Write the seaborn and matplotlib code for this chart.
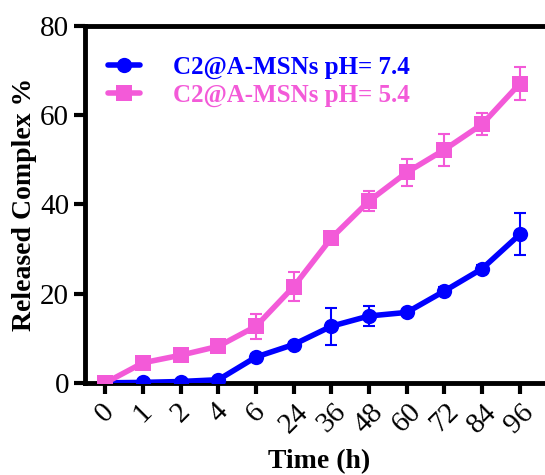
import matplotlib
matplotlib.use("Agg")
import matplotlib.pyplot as plt
import seaborn as sns
import numpy as np
import pandas as pd
from matplotlib.lines import Line2D

# data
time_labels = ["0", "1", "2", "4", "6", "24", "36", "48", "60", "72", "84", "96"]
ph74_mean = [0.0, 0.1, 0.3, 0.7, 5.8, 8.6, 12.7, 15.0, 15.8, 20.6, 25.6, 33.3]
ph74_err = [0.0, 0.0, 0.0, 0.0, 0.6, 0.6, 4.1, 2.3, 0.6, 0.8, 0.8, 4.7]
ph54_mean = [0.0, 4.5, 6.2, 8.2, 12.7, 21.6, 32.5, 40.8, 47.2, 52.3, 58.0, 67.1]
ph54_err = [0.0, 0.5, 0.5, 0.5, 2.8, 3.2, 0.8, 2.2, 3.1, 3.6, 2.5, 3.7]

label_74 = "C2@A-MSNs pH= 7.4"
label_54 = "C2@A-MSNs pH= 5.4"
blue = "#0000ff"
pink = "#f35ad8"

sns.set_theme(style="ticks", rc={"axes.edgecolor": "black", "xtick.color": "black",
                                 "ytick.color": "black", "text.color": "black",
                                 "axes.labelcolor": "black"})
plt.rcParams['font.family'] = ['Liberation Serif', 'DejaVu Serif']
plt.rcParams['axes.linewidth'] = 3.5

pos = np.arange(len(time_labels))
df = pd.DataFrame({
    "pos": np.concatenate([pos, pos]),
    "val": ph54_mean + ph74_mean,
    "series": [label_54] * len(pos) + [label_74] * len(pos),
})

fig = plt.figure(figsize=(5.45, 4.75), dpi=100)
ax = fig.add_axes([0.156, 0.194, 0.86, 0.751])

# error bars first so lines sit on top
ax.errorbar(pos, ph54_mean, yerr=ph54_err, fmt="none", ecolor=pink,
            elinewidth=1.5, capsize=4, capthick=1.5, zorder=2)
ax.errorbar(pos, ph74_mean, yerr=ph74_err, fmt="none", ecolor=blue,
            elinewidth=1.5, capsize=4, capthick=1.5, zorder=2)

sns.lineplot(data=df, x="pos", y="val", hue="series", style="series",
             hue_order=[label_74, label_54], style_order=[label_74, label_54],
             palette={label_74: blue, label_54: pink},
             markers={label_74: "o", label_54: "s"}, dashes=False,
             linewidth=4, markersize=11, markeredgewidth=0, ax=ax,
             legend=False, zorder=3)

# legend with coloured text
handles = [Line2D([], [], color=blue, marker="o", lw=4, markersize=11, markeredgewidth=0),
           Line2D([], [], color=pink, marker="s", lw=4, markersize=11, markeredgewidth=0)]
leg = ax.legend(handles, [label_74, label_54], loc="upper left", frameon=False,
                prop={"size": 18, "weight": "bold"}, handlelength=1.3,
                handletextpad=1.3, labelspacing=0.2, bbox_to_anchor=(0.0, 0.98))
for t, c in zip(leg.get_texts(), [blue, pink]):
    t.set_color(c)

ax.set_xlim(-0.54, 11.9)
ax.set_ylim(0, 80)
ax.set_yticks([0, 20, 40, 60, 80])
ax.set_xticks(pos)
ax.set_xticklabels(time_labels, rotation=45, ha="center", fontsize=21)
ax.tick_params(axis="y", labelsize=21, width=3, length=8, direction="out")
ax.tick_params(axis="x", width=3, length=8, direction="out")
ax.spines["right"].set_visible(False)
ax.spines["top"].set_visible(True)

ax.set_xlabel("Time (h)", fontsize=20, fontweight="bold", labelpad=8)
ax.set_ylabel("Released Complex %", fontsize=20, fontweight="bold", labelpad=2)

fig.savefig("out.png", dpi=100)
